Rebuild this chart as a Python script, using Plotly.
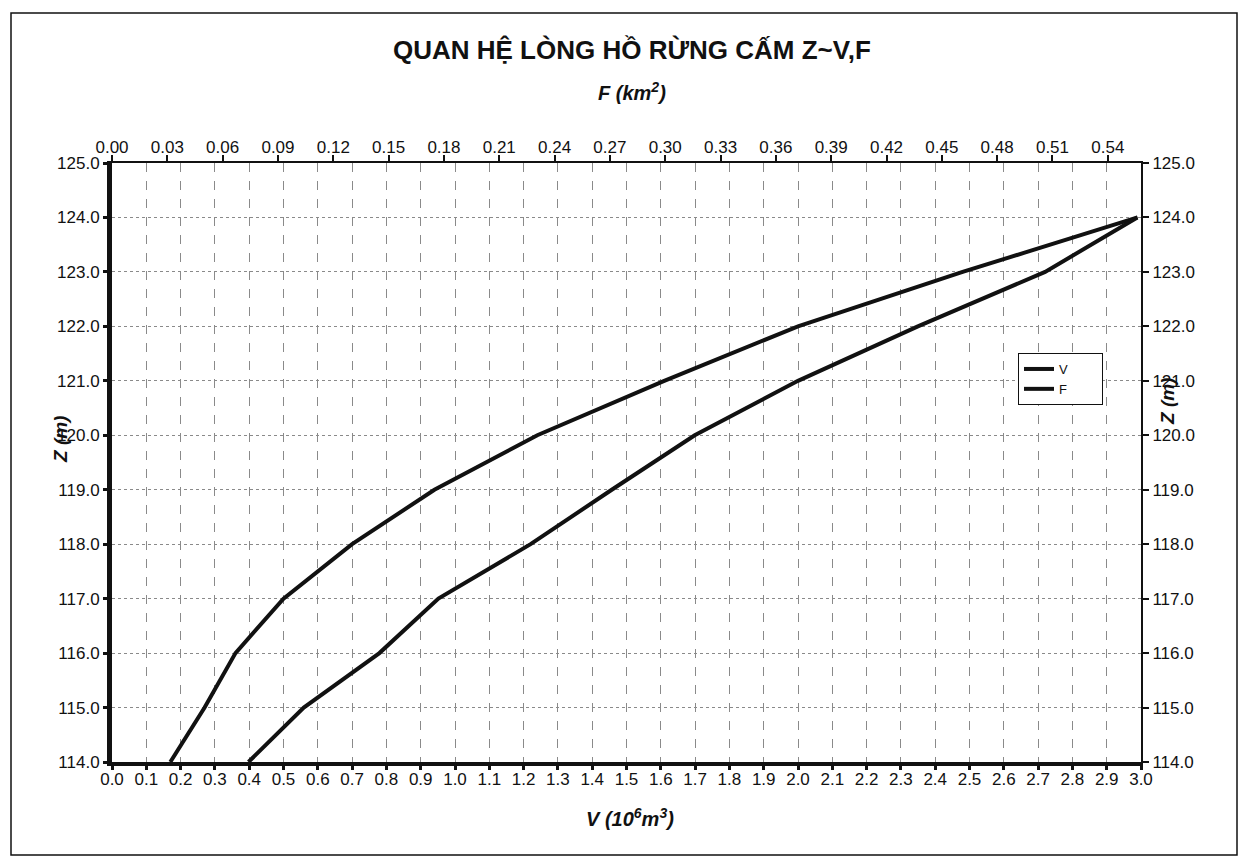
import plotly.graph_objects as go

# ---- data ----
Z = [114, 115, 116, 117, 118, 119, 120, 121, 122, 123, 124]
V = [0.17, 0.27, 0.36, 0.50, 0.70, 0.94, 1.24, 1.61, 2.00, 2.48, 2.99]      # 10^6 m3
F = [0.074, 0.104, 0.145, 0.177, 0.227, 0.271, 0.316, 0.372, 0.437, 0.506, 0.556]  # km2

title_text = "QUAN HỆ LÒNG HỒ RỪNG CẤM Z~V,F"
v_range = [0, 3.0]
f_range = [0, 0.558]
z_range = [114, 125]

FONT = "Liberation Sans, Arial, sans-serif"
INK = "#111111"
PAD = "\u00a0" * 8

fig = go.Figure()
fig.add_trace(go.Scatter(x=V, y=Z, name="V" + PAD, mode="lines",
                         line=dict(color=INK, width=4), xaxis="x", yaxis="y"))
fig.add_trace(go.Scatter(x=F, y=Z, name="F" + PAD, mode="lines",
                         line=dict(color=INK, width=4), xaxis="x2", yaxis="y2"))

# the page body has an 8px margin, so the figure is drawn 8px in from the corner
OFF = 8
W, H = 1248 - OFF, 862 - OFF
# plot area in page pixels: left 112, right 1141, top 163, bottom 762
L, R, T, B = 112 - OFF, 1141 - OFF, 163 - OFF, 762 - OFF


def px(x):
    return (x - OFF - L) / (R - L)


def py(y):
    return (B - (y - OFF)) / (B - T)


TICK = 17

fig.update_layout(
    width=W, height=H,
    margin=dict(l=L, r=W - R, t=T, b=H - B),
    paper_bgcolor="white", plot_bgcolor="white",
    font=dict(family=FONT, size=TICK, color=INK),
    showlegend=True,
    legend=dict(x=px(1018), y=py(353), xanchor="left", yanchor="top",
                bordercolor=INK, borderwidth=1, bgcolor="white",
                font=dict(size=13), itemwidth=30, tracegroupgap=0),
    xaxis=dict(range=v_range, dtick=0.1, tick0=0, tickformat=".1f",
               showgrid=True, gridcolor="#8a8a8a", griddash="dash", gridwidth=1,
               showline=True, linewidth=4, linecolor=INK,
               ticks="outside", ticklen=4, tickwidth=3, tickcolor=INK,
               ticklabelstandoff=-5,
               zeroline=False, tickfont=dict(size=TICK), anchor="y"),
    xaxis2=dict(range=f_range, dtick=0.03, tick0=0, tickformat=".2f",
                overlaying="x", side="top", anchor="y2",
                showgrid=False, showline=True, linewidth=1.5, linecolor=INK,
                ticks="outside", ticklen=6, tickwidth=1.5, tickcolor=INK,
                ticklabelstandoff=-5,
                zeroline=False, tickfont=dict(size=TICK)),
    yaxis=dict(range=z_range, dtick=1, tick0=114, tickformat=".1f",
               showgrid=True, gridcolor="#8a8a8a", griddash="dot", gridwidth=1,
               showline=True, linewidth=5, linecolor=INK,
               ticks="outside", ticklen=4, tickwidth=3, tickcolor=INK,
               zeroline=False, tickfont=dict(size=TICK), anchor="x"),
    yaxis2=dict(range=z_range, dtick=1, tick0=114, tickformat=".1f",
                overlaying="y", side="right", anchor="x2",
                showgrid=False, showline=True, linewidth=2, linecolor=INK,
                ticks="outside", ticklen=6, tickwidth=1.5, tickcolor=INK,
                zeroline=False, tickfont=dict(size=TICK)),
)

fig.add_shape(type="rect", xref="paper", yref="paper",
              x0=px(11), x1=px(1237), y0=py(855), y1=py(13),
              line=dict(color=INK, width=1.5), layer="above")

ann = [
    dict(text="<b>" + title_text + "</b>", x=px(632), y=py(50),
         font=dict(size=26)),
    dict(text="<b><i>F (km<sup>2</sup>)</i></b>", x=px(632), y=py(91),
         font=dict(size=20)),
    dict(text="<b><i>V (10<sup>6</sup>m<sup>3</sup>)</i></b>", x=px(630), y=py(817),
         font=dict(size=20)),
    dict(text="<b><i>Z (m)</i></b>", x=px(60), y=py(440), textangle=-90,
         font=dict(size=19)),
    dict(text="<b><i>Z (m)</i></b>", x=px(1167), y=py(402), textangle=-90,
         font=dict(size=19)),
]
for a in ann:
    fig.add_annotation(xref="paper", yref="paper", showarrow=False,
                       xanchor="center", yanchor="middle", **a)

fig.write_html("out.html")
